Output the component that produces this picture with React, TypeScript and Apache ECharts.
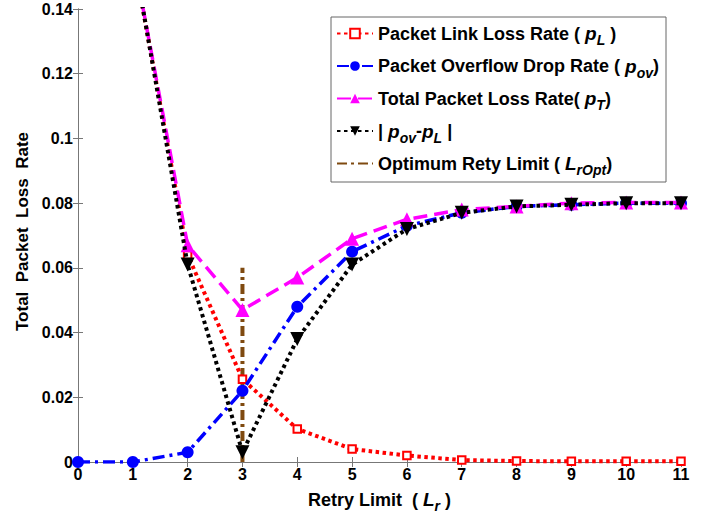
import React, { useEffect, useRef } from "react";
import * as echarts from "echarts";

const retryLimits = [0, 1, 2, 3, 4, 5, 6, 7, 8, 9, 10, 11];
const linkLoss = [0.4, 0.157, 0.064, 0.0256, 0.0102, 0.004, 0.002, 0.0006, 0.0003, 0.0002, 0.0002, 0.0002];
const overflowDrop = [0, 0, 0.003, 0.022, 0.048, 0.065, 0.073, 0.077, 0.079, 0.0795, 0.08, 0.08];
const totalLoss = [0.4, 0.157, 0.067, 0.047, 0.057, 0.069, 0.075, 0.078, 0.079, 0.08, 0.0802, 0.0802];
const absDiff = [0.4, 0.158, 0.061, 0.003, 0.038, 0.061, 0.072, 0.077, 0.079, 0.0795, 0.08, 0.08];
const optimumX = [3, 3];
const optimumY = [0, 0.06];
const yTicks = [0, 0.02, 0.04, 0.06, 0.08, 0.1, 0.12, 0.14];

const FONT = "Liberation Sans";

function pairs(xs: number[], ys: number[]) {
  return xs.map((x, i) => [x, ys[i]]);
}

export default function App() {
  const ref = useRef<HTMLDivElement>(null);
  useEffect(() => {
    const chart = echarts.init(ref.current!, null, { renderer: "svg" });
    const mkRich = (fs: number, ss: number, pad: number) => ({
      n: { fontFamily: FONT, fontWeight: "bold", fontSize: fs, color: "#000" },
      i: { fontFamily: FONT, fontWeight: "bold", fontStyle: "italic", fontSize: fs + 1, color: "#000" },
      s: { fontFamily: FONT, fontWeight: "bold", fontStyle: "italic", fontSize: ss, color: "#000", padding: [pad, 0, 0, 0] },
    });
    const legendRich = mkRich(18, 14, 13);
    const axisRich = mkRich(18, 14, 13);
    const names = ["pL", "pov", "pT", "diff", "opt"];
    const legendText: Record<string, string> = {
      pL: "{n|Packet Link Loss Rate ( }{i|p}{s|L}{n| )}",
      pov: "{n|Packet Overflow Drop Rate ( }{i|p}{s|ov}{n|)}",
      pT: "{n|Total Packet Loss Rate( }{i|p}{s|T}{n|)}",
      diff: "{n|| }{i|p}{s|ov}{n|-}{i|p}{s|L}{n| |}",
      opt: "{n|Optimum Rety Limit ( }{i|L}{s|rOpt}{n|)}",
    };
    const axisCommon = {
      axisLine: { show: true, lineStyle: { color: "#777", width: 1 } },
      axisTick: { show: true, inside: true, length: 5, lineStyle: { color: "#777" } },
      splitLine: { show: false },
    };
    chart.setOption({
      animation: false,
      backgroundColor: "#fff",
      grid: { left: 78, right: 28, top: 9, bottom: 55 },
      legend: {
        data: names.map((n) => (n === "opt" ? { name: n, itemStyle: { opacity: 0 } } : { name: n })),
        orient: "vertical",
        left: 331,
        top: 17,
        backgroundColor: "#fff",
        borderColor: "#666",
        borderWidth: 1,
        padding: [7, 7, 5, 5],
        itemWidth: 36,
        itemHeight: 12,
        itemGap: 9.5,
        textStyle: { rich: legendRich },
        formatter: (n: string) => legendText[n],
      },
      xAxis: [
        {
          type: "value",
          min: 0,
          max: 11,
          interval: 1,
          ...axisCommon,
          axisLabel: { fontFamily: FONT, fontWeight: "bold", fontSize: 16, color: "#000", margin: 4 },
          name: "{n|Retry Limit  ( }{i|L}{s|r}{n| )}",
          nameLocation: "middle",
          nameGap: 24,
          nameTextStyle: { rich: axisRich },
        },
        {
          type: "value",
          position: "top",
          min: 0,
          max: 11,
          interval: 1,
          ...axisCommon,
          axisLabel: { show: false },
        },
      ],
      yAxis: [
        {
          type: "value",
          min: 0,
          max: 0.14,
          interval: 0.02,
          ...axisCommon,
          axisLabel: {
            fontFamily: FONT,
            fontWeight: "bold",
            fontSize: 16,
            color: "#000",
            margin: 5,
            formatter: (v: number) => {
              const t = yTicks.find((y) => Math.abs(y - v) < 1e-9);
              return t === undefined ? "" : String(Number(t.toFixed(2)));
            },
          },
          name: "Total  Packet  Loss  Rate",
          nameLocation: "middle",
          nameGap: 47,
          nameTextStyle: { fontFamily: FONT, fontWeight: "bold", fontSize: 17, color: "#000", padding: [0, 0, 0, 8] },
        },
        {
          type: "value",
          position: "right",
          min: 0,
          max: 0.14,
          interval: 0.02,
          ...axisCommon,
          axisLabel: { show: false },
        },
      ],
      series: [
        {
          name: "pL",
          type: "line",
          data: pairs(retryLimits, linkLoss),
          clip: true,
          symbol: "emptyRect",
          symbolSize: 7.5,
          color: "#ff0000",
          itemStyle: { color: "#ff0000", borderColor: "#ff0000", borderWidth: 5.5 },
          lineStyle: { color: "#ff0000", width: 4, type: [3.5, 3.5] },
          z: 2,
        },
        {
          name: "pov",
          type: "line",
          data: pairs(retryLimits, overflowDrop),
          clip: true,
          symbol: "circle",
          symbolSize: 12,
          color: "#0000ff",
          itemStyle: { color: "#0000ff" },
          lineStyle: { color: "#0000ff", width: 3.5, type: [12, 5, 3, 5] },
          z: 3,
        },
        {
          name: "pT",
          type: "line",
          data: pairs(retryLimits, totalLoss),
          clip: true,
          symbol: "triangle",
          symbolSize: 14,
          color: "#ff00ff",
          itemStyle: { color: "#ff00ff" },
          lineStyle: { color: "#ff00ff", width: 3.5, type: [14, 7] },
          z: 4,
        },
        {
          name: "diff",
          type: "line",
          data: pairs(retryLimits, absDiff),
          clip: true,
          symbol: "triangle",
          symbolRotate: 180,
          symbolSize: 14,
          color: "#000000",
          itemStyle: { color: "#000000" },
          lineStyle: { color: "#000000", width: 4, type: [3.5, 3.5] },
          z: 5,
        },
        {
          name: "opt",
          type: "line",
          data: pairs(optimumX, optimumY),
          clip: true,
          symbol: "none",
          color: "#7f4a10",
          lineStyle: { color: "#7f4a10", width: 4, type: [10, 4, 3, 4] },
          z: 1,
        },
      ],
    });
    return () => chart.dispose();
  }, []);
  return <div ref={ref} style={{ width: 709, height: 518, position: "absolute", left: 0, top: 0 }} />;
}
